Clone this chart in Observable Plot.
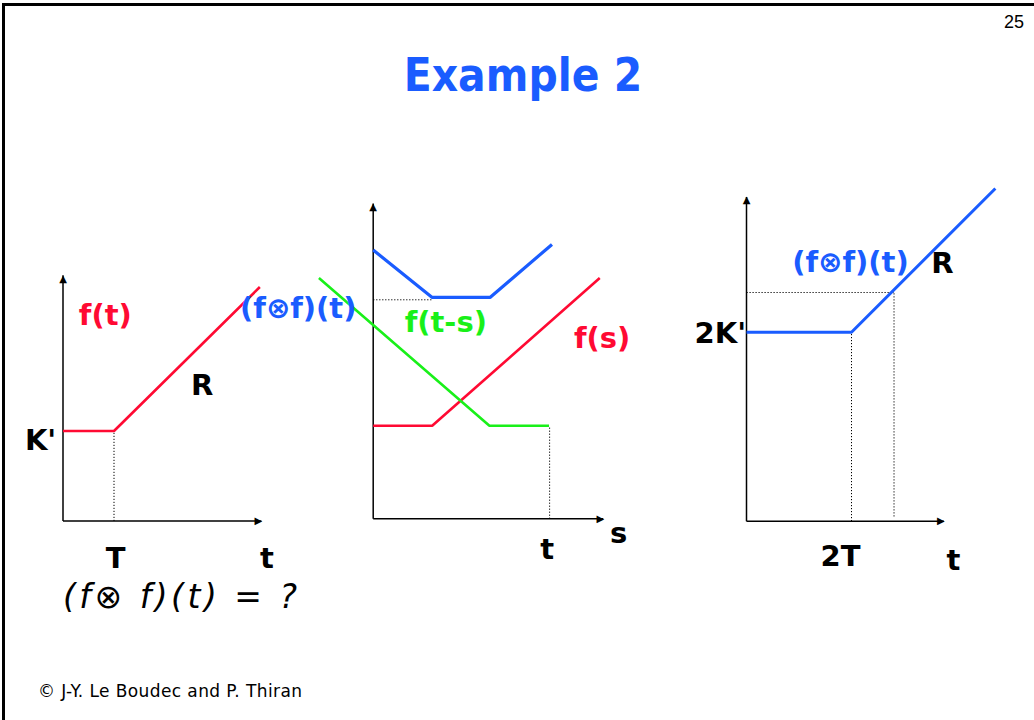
<!DOCTYPE html>
<html>
<head>
<meta charset="utf-8">
<script src="https://cdn.jsdelivr.net/npm/d3@7"></script>
<script src="https://cdn.jsdelivr.net/npm/@observablehq/plot@0.6"></script>
<style>
  html, body { margin: 0; padding: 0; background: #fff; }
  #page { position: relative; width: 1034px; height: 720px; overflow: hidden; background: #fff; font-family: "DejaVu Sans", sans-serif; }
  #frame { position: absolute; left: 2px; top: 3px; right: -10px; bottom: -10px; border-left: 3px solid #000; border-top: 3px solid #000; }
  #num { position: absolute; right: 10px; top: 13px; font: 18px "Liberation Sans", Arial, sans-serif; line-height: 18px; color: #000; }
  #title { position: absolute; left: 0; width: 1046px; top: 52px; text-align: center; font: bold 46px "DejaVu Sans", sans-serif; line-height: 46px; color: #1a5cff; }
  #title span { display: inline-block; transform: scaleX(0.89); }
  #footer { position: absolute; left: 38px; top: 683px; font: 17px "DejaVu Sans", sans-serif; letter-spacing: 0.4px; line-height: 17px; color: #000; }
  .panel { position: absolute; left: 0; top: 0; }
</style>
</head>
<body>
<div id="page">
  <div id="frame"></div>
  <div id="num">25</div>
  <div id="title"><span>Example 2</span></div>
  <div id="footer">© J-Y. Le Boudec and P. Thiran</div>
</div>
<script>
// ---------- data (units: T horizontally, K' vertically) ----------
// Panel 1: f(t)
const p1_f = [{x: 0, y: 1}, {x: 1, y: 1}, {x: 3.86, y: 2.6}];
const p1_axes = [3.89, 2.73];            // [t-axis length, f-axis length]
const p1_guides = [{x1: 1, y1: 0, x2: 1, y2: 1}];
const p1_labels = [
  {x: 0.83, y: 2.28, text: "f(t)", c: "red"},
  {x: 2.73, y: 1.5, text: "R", c: "black"},
  {x: -0.44, y: 0.89, text: "K'", c: "black"},
  {x: 1.03, y: -0.42, text: "T", c: "black"},
  {x: 4.0, y: -0.42, text: "t", c: "black"}
];
const p1_equation = [{x: 0, y: -0.85, text: "(f⊗ f)(t) = ?"}];

// Panel 2: f(s), f(t-s) and their sum over s
const p2_fs = [{x: 0, y: 1}, {x: 1, y: 1}, {x: 3.84, y: 2.59}];
const p2_fts = [{x: -0.92, y: 2.59}, {x: 1.97, y: 1}, {x: 2.0, y: 1}, {x: 2.98, y: 1}];
const p2_sum = [{x: 0, y: 2.89}, {x: 1, y: 2.38}, {x: 1.98, y: 2.38}, {x: 3.03, y: 2.95}];
const p2_axes = [3.9, 3.39];
const p2_guides = [
  {x1: 0, y1: 2.355, x2: 1, y2: 2.355},
  {x1: 2.99, y1: 0, x2: 2.99, y2: 1}
];
const p2_labels = [
  {x: -1.27, y: 2.26, text: "(f⊗f)(t)", c: "blue"},
  {x: 1.23, y: 2.11, text: "f(t-s)", c: "green"},
  {x: 3.88, y: 1.94, text: "f(s)", c: "red"},
  {x: 4.16, y: -0.16, text: "s", c: "black"},
  {x: 2.95, y: -0.33, text: "t", c: "black"}
];

// Panel 3: (f⊗f)(t)
const p3_conv = [{x: 0, y: 2}, {x: 2, y: 2}, {x: 4.74, y: 3.52}];
const p3_axes = [3.76, 3.43];
const p3_guides = [
  {x1: 0, y1: 2.42, x2: 2.81, y2: 2.42},
  {x1: 2.81, y1: 0.05, x2: 2.81, y2: 2.42},
  {x1: 2, y1: 0, x2: 2, y2: 2}
];
const p3_labels = [
  {x: 1.98, y: 2.74, text: "(f⊗f)(t)", c: "blue"},
  {x: 3.73, y: 2.72, text: "R", c: "black"},
  {x: -0.5, y: 1.98, text: "2K'", c: "black"},
  {x: 1.79, y: -0.38, text: "2T", c: "black"},
  {x: 3.94, y: -0.42, text: "t", c: "black"}
];

// ---------- styles ----------
const COLORS = {red: "#ff0a33", blue: "#1a5cff", green: "#19f019", black: "#000"};
const FONT = "DejaVu Sans";

function panel({xRange, yRange, axes, guides, curves, labels, extra = []}) {
  const [ax, ay] = axes;
  const axisLines = [{x1: 0, y1: 0, x2: ax, y2: 0}, {x1: 0, y1: 0, x2: 0, y2: ay}];
  return Plot.plot({
    width: 1034, height: 720,
    margin: 0,
    x: {type: "linear", domain: [0, 4], range: xRange, axis: null},
    y: {type: "linear", domain: [0, 3], range: yRange, axis: null},
    style: {background: "none", overflow: "visible", fontFamily: FONT},
    marks: [
      Plot.link(guides, {x1: "x1", y1: "y1", x2: "x2", y2: "y2", stroke: "#000", strokeWidth: 1, strokeDasharray: "1.2,1.8"}),
      Plot.link(axisLines, {x1: "x1", y1: "y1", x2: "x2", y2: "y2", stroke: "#000", strokeWidth: 1.5}),
      Plot.text([{x: ax, y: 0}], {x: "x", y: "y", text: () => "▶", fill: "#000", fontSize: 10, dx: -3, lineAnchor: "middle", textAnchor: "middle"}),
      Plot.text([{x: 0, y: ay}], {x: "x", y: "y", text: () => "▲", fill: "#000", fontSize: 10, dy: 3, lineAnchor: "middle", textAnchor: "middle"}),
      ...curves.map(c => Plot.line(c.data, {x: "x", y: "y", stroke: COLORS[c.color], strokeWidth: c.width, strokeLinecap: "butt", strokeLinejoin: "miter"})),
      Plot.text(labels, {x: "x", y: "y", text: "text", fill: d => COLORS[d.c], fontSize: 29, fontWeight: "bold", lineAnchor: "middle", textAnchor: "middle"}),
      ...extra
    ]
  });
}

// Scale ranges: the pixel span of 4 T units and 3 K' units in each sketch
const plots = [
  panel({
    xRange: [62.5, 266.5], yRange: [520.5, 250.5],
    axes: p1_axes, guides: p1_guides, labels: p1_labels,
    curves: [{data: p1_f, color: "red", width: 2.6}],
    extra: [Plot.text(p1_equation, {x: "x", y: "y", text: "text", fill: "#000", fontSize: 33, fontStyle: "italic", textAnchor: "start", lineAnchor: "middle", ariaLabel: "equation"})]
  }),
  panel({
    xRange: [372.7, 608.7], yRange: [518.3, 239.3],
    axes: p2_axes, guides: p2_guides, labels: p2_labels,
    curves: [
      {data: p2_fs, color: "red", width: 2.6},
      {data: p2_fts, color: "green", width: 2.6},
      {data: p2_sum, color: "blue", width: 3.2}
    ]
  }),
  panel({
    xRange: [746, 956], yRange: [520.7, 237.2],
    axes: p3_axes, guides: p3_guides, labels: p3_labels,
    curves: [{data: p3_conv, color: "blue", width: 3}]
  })
];

// widen the handwritten-style equation like the original slide
d3.select(plots[0]).selectAll("text")
  .filter(function () { return this.textContent === p1_equation[0].text; })
  .style("letter-spacing", "3.5px");

const page = document.getElementById("page");
for (const p of plots) {
  p.classList.add("panel");
  page.appendChild(p);
}
</script>
</body>
</html>
